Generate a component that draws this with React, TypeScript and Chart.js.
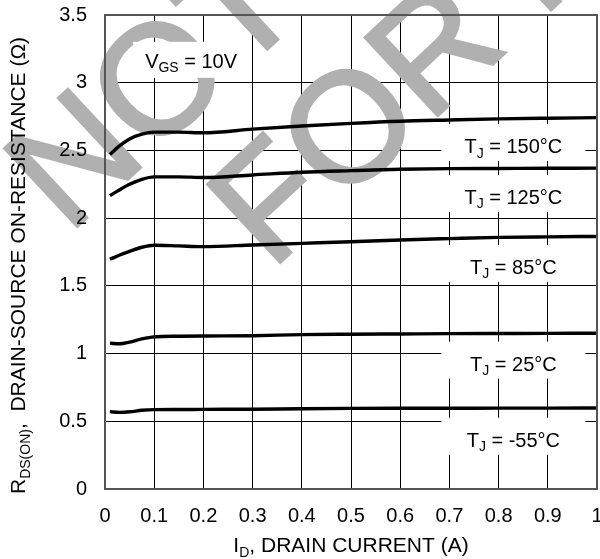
import React, { useEffect, useRef } from 'react';
import { Chart, registerables } from 'chart.js';

Chart.register(...registerables);

const FONT = '"Liberation Sans", Arial, Helvetica, sans-serif';

// I_D, drain current (A)
const drainCurrent = [0.01, 0.03, 0.05, 0.075, 0.1, 0.15, 0.2, 0.3, 0.4, 0.5, 0.6, 0.7, 0.8, 0.9, 1.0];

// R_DS(ON) (ohm) per junction temperature
const rds150 = [2.47, 2.535, 2.585, 2.62, 2.635, 2.635, 2.63, 2.657, 2.68, 2.7, 2.716, 2.725, 2.733, 2.738, 2.742];
const rds125 = [2.166, 2.21, 2.25, 2.287, 2.305, 2.305, 2.3, 2.319, 2.339, 2.351, 2.361, 2.366, 2.367, 2.368, 2.369];
const rds85 = [1.696, 1.728, 1.755, 1.785, 1.8, 1.795, 1.79, 1.802, 1.814, 1.826, 1.839, 1.849, 1.858, 1.862, 1.865];
const rds25 = [1.076, 1.072, 1.085, 1.108, 1.123, 1.128, 1.13, 1.132, 1.14, 1.143, 1.145, 1.147, 1.148, 1.149, 1.15];
const rdsM55 = [0.571, 0.566, 0.57, 0.581, 0.586, 0.587, 0.588, 0.589, 0.593, 0.595, 0.596, 0.596, 0.597, 0.597, 0.598];

const seriesValues = [rds150, rds125, rds85, rds25, rdsM55];
const seriesNames = ['150°C', '125°C', '85°C', '25°C', '-55°C'];

// label anchors (data coords: x = current, y = baseline resistance)
const labelX = 0.83;
const labelY = [2.48, 2.105, 1.588, 0.874, 0.312];
const vgsLabelX = 0.175;
const vgsLabelY = 3.11;
const vgsText = '10V';

const xTickLabels = ['0', '0.1', '0.2', '0.3', '0.4', '0.5', '0.6', '0.7', '0.8', '0.9', '1'];
const yTickLabels = ['0', '0.5', '1', '1.5', '2', '2.5', '3', '3.5'];

type Part = { t: string; sub?: boolean };

function partsWidth(ctx: CanvasRenderingContext2D, parts: Part[], size: number, subSize: number) {
  let w = 0;
  for (const p of parts) {
    ctx.font = `${p.sub ? subSize : size}px ${FONT}`;
    w += ctx.measureText(p.t).width;
  }
  return w;
}

function drawParts(
  ctx: CanvasRenderingContext2D,
  parts: Part[],
  x: number,
  y: number,
  size: number,
  subSize: number,
  subDy: number,
  align: 'left' | 'center'
) {
  let cx = align === 'center' ? x - partsWidth(ctx, parts, size, subSize) / 2 : x;
  ctx.textAlign = 'left';
  ctx.textBaseline = 'alphabetic';
  for (const p of parts) {
    ctx.font = `${p.sub ? subSize : size}px ${FONT}`;
    ctx.fillText(p.t, cx, p.sub ? y + subDy : y);
    cx += ctx.measureText(p.t).width;
  }
}

export default function App() {
  const ref = useRef<HTMLCanvasElement>(null);

  useEffect(() => {
    document.body.style.margin = '0';
    const canvas = ref.current;
    if (!canvas) return;

    const watermark = {
      id: 'watermark',
      beforeDatasetsDraw(chart: any) {
        const ctx: CanvasRenderingContext2D = chart.ctx;
        ctx.save();
        ctx.fillStyle = '#b0b0b0';
        ctx.strokeStyle = '#b0b0b0';
        ctx.lineWidth = 3;
        ctx.lineJoin = 'miter';
        ctx.font = `155px ${FONT}`;
        ctx.textBaseline = 'alphabetic';
        ctx.textAlign = 'left';
        const ang = (-43 * Math.PI) / 180;
        const lines: [string, number, number][] = [
          ['NOT', 68, 235],
          ['FOR NEW', 271, 271],
        ];
        for (const [t, ox, oy] of lines) {
          ctx.save();
          ctx.translate(ox, oy);
          ctx.rotate(ang);
          ctx.fillText(t, 0, 0);
          ctx.strokeText(t, 0, 0);
          ctx.restore();
        }
        ctx.restore();
      },
    };

    const annotations = {
      id: 'annotations',
      beforeDatasetsDraw(chart: any) {
        const ctx: CanvasRenderingContext2D = chart.ctx;
        const xs = chart.scales.x;
        const ys = chart.scales.y;
        ctx.save();
        {
          const cx = xs.getPixelForValue(vgsLabelX);
          const by = ys.getPixelForValue(vgsLabelY);
          ctx.fillStyle = '#fff';
          ctx.fillRect(cx - 58, by - 26, 116, 36);
          ctx.fillStyle = '#000';
          drawParts(ctx, [{ t: 'V' }, { t: 'GS', sub: true }, { t: ' = ' + vgsText }], cx, by, 20, 14, 4.5, 'center');
        }
        seriesNames.forEach((name, i) => {
          const cx = xs.getPixelForValue(labelX);
          const by = ys.getPixelForValue(labelY[i]);
          ctx.fillStyle = '#fff';
          ctx.fillRect(cx - 72, by - 29, 144, 37);
          ctx.fillStyle = '#000';
          drawParts(ctx, [{ t: 'T' }, { t: 'J', sub: true }, { t: ' = ' + name }], cx, by, 20, 14, 4.5, 'center');
        });
        ctx.restore();
      },
    };

    const frame = {
      id: 'frame',
      afterDatasetsDraw(chart: any) {
        const ctx: CanvasRenderingContext2D = chart.ctx;
        const a = chart.chartArea;
        ctx.save();
        ctx.strokeStyle = '#555';
        ctx.lineWidth = 2;
        ctx.strokeRect(a.left, a.top, a.right - a.left, a.bottom - a.top);
        ctx.restore();
      },
    };

    const titles = {
      id: 'titles',
      afterDraw(chart: any) {
        const ctx: CanvasRenderingContext2D = chart.ctx;
        const a = chart.chartArea;
        ctx.save();
        ctx.fillStyle = '#000';
        drawParts(
          ctx,
          [{ t: 'I' }, { t: 'D', sub: true }, { t: ', DRAIN CURRENT (A)' }],
          (a.left + a.right) / 2,
          552,
          21,
          14,
          4.5,
          'center'
        );
        ctx.translate(25, 494);
        ctx.rotate(-Math.PI / 2);
        drawParts(
          ctx,
          [{ t: 'R' }, { t: 'DS(ON)', sub: true }, { t: ',  DRAIN-SOURCE ON-RESISTANCE (Ω)' }],
          0,
          0,
          21,
          14,
          4.5,
          'left'
        );
        ctx.restore();
      },
    };

    const chart = new Chart(canvas, {
      type: 'line',
      data: {
        datasets: seriesValues.map((vals, i) => ({
          label: seriesNames[i],
          data: drainCurrent.map((x, j) => ({ x, y: vals[j] })),
          borderColor: '#000',
          borderWidth: 3.4,
          pointRadius: 0,
          fill: false,
          cubicInterpolationMode: 'monotone' as const,
        })),
      },
      options: {
        animation: false,
        responsive: true,
        maintainAspectRatio: false,
        layout: { padding: { top: 15, right: 3, left: 0, bottom: 0 }, autoPadding: false },
        plugins: { legend: { display: false }, tooltip: { enabled: false } },
        scales: {
          x: {
            type: 'linear',
            min: 0,
            max: 1,
            ticks: {
              stepSize: 0.1,
              autoSkip: false,
              maxRotation: 0,
              color: '#000',
              padding: 15,
              font: { family: FONT, size: 20 },
              callback: (_v: any, i: number) => xTickLabels[i],
              z: 1,
            } as any,
            grid: { color: '#000', lineWidth: 1, drawTicks: false },
            border: { display: false },
            afterFit: (s: any) => {
              s.height = 70;
              s.paddingLeft = 0;
              s.paddingRight = 0;
            },
          },
          y: {
            type: 'linear',
            min: 0,
            max: 3.5,
            ticks: {
              stepSize: 0.5,
              autoSkip: false,
              color: '#000',
              padding: 18,
              font: { family: FONT, size: 20 },
              callback: (_v: any, i: number) => yTickLabels[i],
              z: 1,
            } as any,
            grid: { color: '#000', lineWidth: 1, drawTicks: false },
            border: { display: false },
            afterFit: (s: any) => {
              s.width = 105;
              s.paddingTop = 0;
              s.paddingBottom = 0;
            },
          },
        },
      },
      plugins: [watermark, annotations, frame, titles],
    } as any);

    return () => chart.destroy();
  }, []);

  return (
    <div style={{ width: 600, height: 559, position: 'relative' }}>
      <canvas ref={ref} />
    </div>
  );
}
